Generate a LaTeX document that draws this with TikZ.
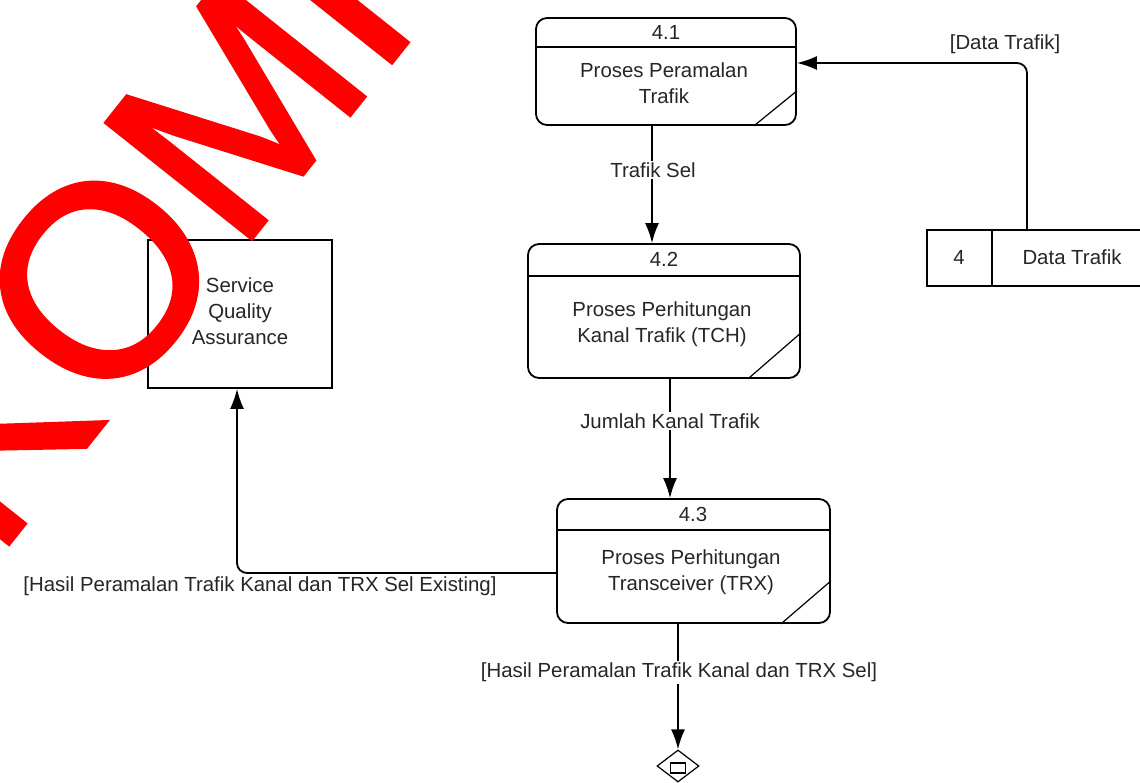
\documentclass[tikz,border=0pt]{standalone}
\usepackage{fontspec}
\setmainfont{Liberation Sans}
\newfontfamily\wmfont[FakeBold=1.6]{Liberation Sans}
\usetikzlibrary{arrows.meta,shapes.geometric,calc}
\begin{document}
\begin{tikzpicture}[x=1pt,y=-1pt,
  proc/.style={draw, line width=1.8pt, rounded corners=11pt, inner sep=0pt},
  ent/.style={draw, line width=1.8pt, inner sep=0pt},
  txt/.style={font=\fontsize{20.4}{26}\selectfont, align=center, inner sep=1pt, text=black!85},
  lbl/.style={txt, fill=white, inner sep=2pt},
  flow/.style={line width=1.8pt, -{Latex[length=20pt,width=14pt]}},
  thinline/.style={line width=1.2pt},
  wm/.style={font=\wmfont\fontsize{270}{270}\selectfont, text=red, inner sep=0pt}
]
\useasboundingbox (0,0) rectangle (1140,782);
\fill[white] (0,0) rectangle (1140,782);
\clip (0,0) rectangle (1140,782);

% process 4.1
\node[proc, minimum width=260pt, minimum height=107pt] (p41) at (666,71.5) {};
\draw[line width=1.8pt] ([yshift=-30pt]p41.north west) -- ([yshift=-30pt]p41.north east);
\draw[thinline] ([xshift=-43pt]p41.south east) -- ([yshift=35pt]p41.south east);
\node[txt] (p41h) at (666,32) {4.1};
\node[txt] (p41b) at (664,83.5) {Proses Peramalan\\Trafik};

% process 4.2
\node[proc, minimum width=272pt, minimum height=134pt] (p42) at (664,311) {};
\draw[line width=1.8pt] ([yshift=-33pt]p42.north west) -- ([yshift=-33pt]p42.north east);
\draw[thinline] ([xshift=-53pt]p42.south east) -- ([yshift=46pt]p42.south east);
\node[txt] (p42h) at (664,259) {4.2};
\node[txt] (p42b) at (662,324) {Proses Perhitungan\\Kanal Trafik (TCH)};

% process 4.3
\node[proc, minimum width=273pt, minimum height=124pt] (p43) at (693.5,561) {};
\draw[line width=1.8pt] ([yshift=-32pt]p43.north west) -- ([yshift=-32pt]p43.north east);
\draw[thinline] ([xshift=-50pt]p43.south east) -- ([yshift=43pt]p43.south east);
\node[txt] (p43h) at (693,514) {4.3};
\node[txt] (p43b) at (691,572.5) {Proses Perhitungan\\Transceiver (TRX)};

% external entity
\node[ent, minimum width=184pt, minimum height=148pt] (sqa) at (240,314) {};
\node[txt] (sqat) at (240,311) {Service\\Quality\\Assurance};

% data store
\node[ent, minimum width=240pt, minimum height=56pt, anchor=north west] (ds) at (926,229) {};
\draw[line width=1.8pt] ($(ds.north west)+(66,0)$) -- ($(ds.south west)+(66,0)$);
\node[txt] (dsn) at (959,257) {4};
\node[txt] (dst) at (1072,257) {Data Trafik};

% off-page end
\node[draw, thinline, diamond, minimum width=42pt, minimum height=32pt, inner sep=0pt] (endd) at (678,766) {};
\node[draw, thinline, minimum width=15pt, minimum height=10pt, inner sep=0pt] (ends) at (678,768) {};

% flows
\draw[flow, rounded corners=10pt] ($(ds.north west)+(101,0)$) |- ([yshift=8.5pt]p41.east);
\node[txt] (l1) at (1005,44) {[Data Trafik]};

\draw[flow] ([xshift=-14pt]p41.south) -- ([xshift=-12pt]p42.north);
\node[lbl] (l2) at (653,170) {Trafik Sel};

\draw[flow] ([xshift=6pt]p42.south) -- ([xshift=-23.5pt]p43.north);
\node[lbl] (l3) at (670,421) {Jumlah Kanal Trafik};

\draw[flow, rounded corners=10pt] ([yshift=-12pt]p43.west) -| ([xshift=-3pt]sqa.south);
\node[txt] (l4) at (260,586) {[Hasil Peramalan Trafik Kanal dan TRX Sel Existing]};

\draw[flow] ([xshift=-15.5pt]p43.south) -- (endd.north);
\node[lbl] (l5) at (679,672) {[Hasil Peramalan Trafik Kanal dan TRX Sel]};

% watermark
\node[wm, rotate=51.5, anchor=base west] (wmk) at (-5,561) {KOMPUTER};
\end{tikzpicture}
\end{document}
